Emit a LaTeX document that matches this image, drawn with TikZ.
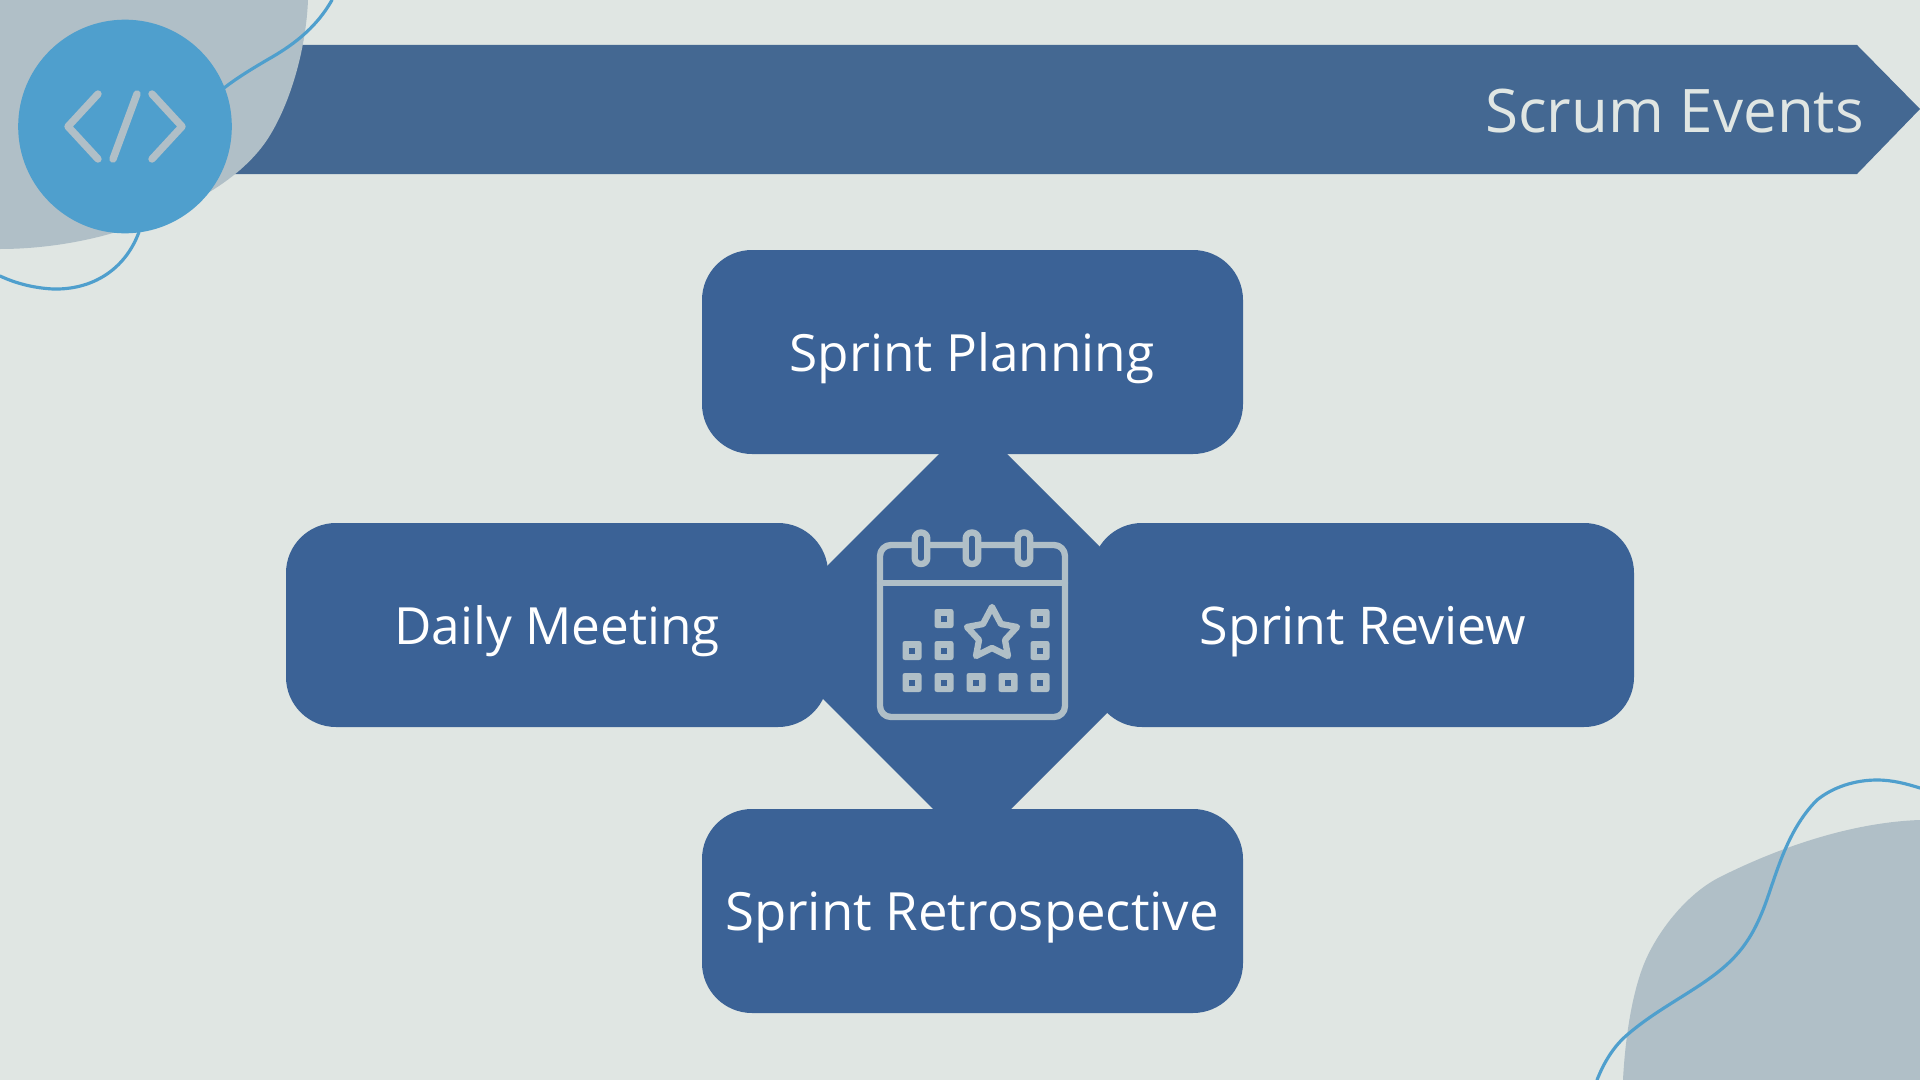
\documentclass[tikz,border=0pt]{standalone}
\usepackage{fontspec}
\setmainfont{Open Sans}
\definecolor{bgc}{HTML}{E0E6E3}
\definecolor{blobc}{HTML}{B0BFC7}
\definecolor{navy}{HTML}{3B6296}
\definecolor{bannerc}{HTML}{446892}
\definecolor{skyc}{HTML}{4F9FCD}
\begin{document}
\begin{tikzpicture}[x=0.05cm,y=-0.05cm,
  card/.style={fill=navy,rounded corners=2.5cm,draw=none},
  cardtext/.style={text=white,font=\fontsize{73}{80}\selectfont,inner sep=0pt,anchor=base},
  squiggle/.style={draw=skyc,line width=4.5pt,line cap=round},
  iconline/.style={draw=blobc,line width=10.5pt,line cap=round,line join=round},
  calline/.style={draw=blobc,line width=9pt,line cap=round,line join=round}]
\useasboundingbox (0,0) rectangle (1920,1080);
\fill[bgc] (0,0) rectangle (1920,1080);
% banner
\fill[bannerc] (230,45) -- (1857,45) -- (1920,109) -- (1857,174) -- (230,174) -- cycle;
\node[text=bgc,font=\fontsize{85.5}{90}\selectfont,inner sep=0pt,anchor=base east] (title) at (1864,132) {Scrum Events};
% top-left blob
\fill[blobc] (0,0) -- (308,0) .. controls (306,50) and (290,105) .. (267,140) .. controls (238,183) and (180,213) .. (113,233) .. controls (75,244) and (35,249) .. (0,249) -- cycle;
\draw[squiggle] (332,0) .. controls (315,30) and (290,47) .. (267,60) .. controls (250,70) and (237,78) .. (224,88);
\draw[squiggle] (139,232) .. controls (125,270) and (92,290) .. (53,289) .. controls (33,288) and (15,283) .. (0,276);
% circle
\node[circle,fill=skyc,minimum size=304pt,inner sep=0pt] (badge) at (125,126.5) {};
\draw[iconline] (98,94) -- (68,126.5) -- (98,159);
\draw[iconline] (137,94) -- (113,159);
\draw[iconline] (152,94) -- (182,126.5) -- (152,159);
% bottom-right blob
\fill[blobc] (1920,820) .. controls (1860,822) and (1790,842) .. (1720,877) .. controls (1690,892) and (1662,925) .. (1647,957) .. controls (1632,989) and (1625,1040) .. (1623,1080) -- (1920,1080) -- cycle;
\draw[squiggle] (1597,1080) .. controls (1604,1062) and (1614,1046) .. (1627,1035) .. controls (1650,1015) and (1676,1001) .. (1700,985) .. controls (1733,963) and (1749,945) .. (1763,910) .. controls (1775,880) and (1785,832) .. (1817,800) .. controls (1833,787) and (1855,780) .. (1877,780) .. controls (1893,780) and (1907,784) .. (1920,788);
% centre diamond
\fill[navy] (973,420) -- (1186.5,633.5) -- (972,848) -- (758.5,634.5) -- cycle;
% cards
\fill[card] (702,250) rectangle (1243,454);
\fill[card] (702,809) rectangle (1243,1013);
\fill[card] (286,523) rectangle (828,727);
\fill[card] (1092,523) rectangle (1634,727);
\node[cardtext] (sp) at (972,371) {Sprint Planning};
\node[cardtext,font=\fontsize{75}{80}\selectfont] (sr) at (972,930) {Sprint Retrospective};
\node[cardtext] (dm) at (557,644) {Daily Meeting};
\node[cardtext,font=\fontsize{74}{80}\selectfont] (rv) at (1363,644) {Sprint Review};
% calendar
\draw[calline,rounded corners=0.55cm] (880,545) rectangle (1065,717);
\draw[calline] (880,583) -- (1065,583);
\foreach \xx in {921,972,1024}{
  \draw[calline,fill=navy,rounded corners=0.3cm] (\xx-6.3,532.5) rectangle (\xx+6.3,564);
}
\foreach \xx/\yy in {944/618.5,1040/618.5,912/650.5,944/650.5,1040/650.5,912/682.5,944/682.5,976/682.5,1008/682.5,1040/682.5}{
  \fill[blobc,rounded corners=0.12cm] (\xx-9.5,\yy-9.5) rectangle (\xx+9.5,\yy+9.5);
  \fill[navy] (\xx-3,\yy-3) rectangle (\xx+3,\yy+3);
}
\draw[calline] (992,607) -- (1001,624) -- (1017,627) -- (1005,640) -- (1008,656) -- (992,648) -- (976,656) -- (979,640) -- (967,627) -- (983,624) -- cycle;
\end{tikzpicture}
\end{document}
